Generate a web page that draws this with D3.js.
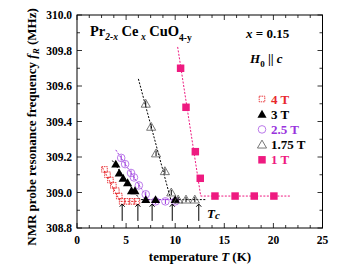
<!DOCTYPE html>
<html>
<head>
<meta charset="utf-8">
<script src="https://cdn.jsdelivr.net/npm/d3@7"></script>
<style>
body { margin: 0; background: #fff; }
text { font-family: "Liberation Serif", "DejaVu Serif", serif; font-weight: bold; }
</style>
</head>
<body>
<div id="chart"></div>
<script>
// NMR probe frequency vs temperature, one series per field
const t4T = [2.8, 3.1, 3.4, 3.7, 4.0, 4.3, 4.6, 5.1, 5.6, 6.1];
const f4T = [309.13, 309.10, 309.07, 309.04, 309.01, 308.98, 308.95, 308.95, 308.95, 308.95];
const t3T = [3.95, 4.3, 4.7, 5.15, 5.55, 5.9, 7.0, 8.0, 10.0];
const f3T = [309.16, 309.11, 309.08, 309.055, 309.01, 309.01, 308.96, 308.96, 308.96];
const t25T = [4.5, 4.9, 5.5, 5.8, 6.3, 7.0, 8.0, 9.0, 10.0];
const f25T = [309.195, 309.16, 309.11, 309.085, 309.04, 308.99, 308.95, 308.95, 308.95];
const t175T = [7.0, 7.55, 8.05, 8.95, 9.6, 10.3, 11.1, 12.0];
const f175T = [309.50, 309.37, 309.22, 309.12, 309.0, 308.96, 308.96, 308.96];
const t1T = [10.55, 11.1, 12.05, 12.55, 14.05, 16.1, 18.05, 20.05];
const f1T = [309.70, 309.48, 309.23, 309.08, 308.98, 308.98, 308.98, 308.98];

// dashed guide lines [T, f]
const fit4T = [[2.6, 309.14], [4.4, 308.95], [6.3, 308.95]];
const fit3T = [[3.6, 309.18], [6.4, 308.96], [8.6, 308.96]];
const fit25T = [[3.95, 309.24], [7.3, 308.96], [10.2, 308.96]];
const fit175T = [[6.25, 309.64], [9.55, 308.96], [13.2, 308.96]];
const fit1T = [[10.25, 309.82], [12.6, 308.98], [21.8, 308.98]];

const tcArrows = [4.6, 6.2, 7.65, 9.7, 12.4];
const legendNames = ["4 T", "3 T", "2.5 T", "1.75 T", "1 T"];

const width = 352, height = 272;
const margin = {top: 15, left: 77, right: 29.5, bottom: 44};

const svg = d3.select("#chart").append("svg")
    .attr("width", width)
    .attr("height", height);

const x = d3.scaleLinear().domain([0, 25]).range([margin.left, width - margin.right]);
const y = d3.scaleLinear().domain([308.8, 310]).range([height - margin.bottom, margin.top]);

// ticks, inside on all four sides
const xMajor = d3.range(0, 25.01, 5), xMinor = d3.range(0, 25.01, 1.25);
const yMajor = d3.range(308.8, 310.01, 0.2), yMinor = d3.range(308.8, 310.01, 0.1);
const tk = svg.append("g").attr("stroke", "#000").attr("stroke-width", 0.8);
xMinor.forEach(function(v) {
    const len = xMajor.some(m => Math.abs(m - v) < 1e-6) ? 5 : 3;
    tk.append("line").attr("x1", x(v)).attr("x2", x(v)).attr("y1", y.range()[0]).attr("y2", y.range()[0] - len);
    tk.append("line").attr("x1", x(v)).attr("x2", x(v)).attr("y1", y.range()[1]).attr("y2", y.range()[1] + len);
});
yMinor.forEach(function(v) {
    const len = yMajor.some(m => Math.abs(m - v) < 1e-6) ? 5 : 3;
    tk.append("line").attr("y1", y(v)).attr("y2", y(v)).attr("x1", x.range()[0]).attr("x2", x.range()[0] + len);
    tk.append("line").attr("y1", y(v)).attr("y2", y(v)).attr("x1", x.range()[1]).attr("x2", x.range()[1] - len);
});

svg.append("rect")
    .attr("x", x(0)).attr("y", y(310))
    .attr("width", x(25) - x(0)).attr("height", y(308.8) - y(310))
    .attr("fill", "none").attr("stroke", "#000").attr("stroke-width", 1);

svg.selectAll(".xl").data(xMajor).enter().append("text")
    .attr("x", d => x(d)).attr("y", 244)
    .attr("text-anchor", "middle").attr("font-size", 11.5)
    .text(d => d3.format("d")(d));
svg.selectAll(".yl").data(yMajor).enter().append("text")
    .attr("x", 72).attr("y", d => y(d) + 4)
    .attr("text-anchor", "end").attr("font-size", 11.5)
    .text(d => d.toFixed(1));

// axis titles
const xt = svg.append("text").attr("x", 200).attr("y", 261).attr("text-anchor", "middle").attr("font-size", 13);
xt.append("tspan").text("temperature ");
xt.append("tspan").attr("font-style", "italic").text("T");
xt.append("tspan").text(" (K)");

const yt = svg.append("text").attr("transform", "translate(36,127) rotate(-90)")
    .attr("text-anchor", "middle").attr("font-size", 13);
yt.append("tspan").text("NMR probe resonance frequency ");
yt.append("tspan").attr("font-style", "italic").text("f");
yt.append("tspan").attr("font-style", "italic").attr("font-size", 9).attr("dy", 3).text("R");
yt.append("tspan").attr("dy", -3).text(" (MHz)");

// dashed fits
const line = d3.line().x(d => x(d[0])).y(d => y(d[1]));
const fits = [[fit4T, "#e8282c"], [fit3T, "#000"], [fit25T, "#9933dd"], [fit175T, "#000"], [fit1T, "#ee1a80"]];
fits.forEach(function(f) {
    svg.append("path").datum(f[0]).attr("d", line)
        .attr("fill", "none").attr("stroke", f[1]).attr("stroke-width", 1)
        .attr("stroke-dasharray", "2,1.5");
});

// error bars
function errBars(ts, fs, col) {
    svg.append("g").selectAll("line").data(ts).enter().append("line")
        .attr("x1", d => x(d)).attr("x2", d => x(d))
        .attr("y1", (d, i) => y(fs[i] - 0.015)).attr("y2", (d, i) => y(fs[i] + 0.015))
        .attr("stroke", col).attr("stroke-width", 1);
}

const tri = d3.symbol().type(d3.symbolTriangle).size(36);
const sq = d3.symbol().type(d3.symbolSquare).size(56);

// 4 T open squares
svg.append("g").selectAll("rect").data(t4T).enter().append("rect")
    .attr("x", d => x(d) - 2.8).attr("y", (d, i) => y(f4T[i]) - 2.8)
    .attr("width", 5.6).attr("height", 5.6)
    .attr("fill", "none").attr("stroke", "#e8282c").attr("stroke-width", 0.9)
    .attr("stroke-dasharray", "1.5,0.8");

// 2.5 T open circles
errBars(t25T, f25T, "#9933dd");
svg.append("g").selectAll("circle").data(t25T).enter().append("circle")
    .attr("cx", d => x(d)).attr("cy", (d, i) => y(f25T[i])).attr("r", 3.8)
    .attr("fill", "none").attr("stroke", "#b36be8").attr("stroke-width", 0.9);

// 3 T filled triangles
errBars(t3T, f3T, "#000");
svg.append("g").selectAll("path").data(t3T).enter().append("path")
    .attr("d", tri).attr("transform", (d, i) => `translate(${x(d)},${y(f3T[i]) + 0.8})`)
    .attr("fill", "#000");

// 1.75 T open triangles
errBars(t175T, f175T, "#000");
svg.append("g").selectAll("path").data(t175T).enter().append("path")
    .attr("d", tri).attr("transform", (d, i) => `translate(${x(d)},${y(f175T[i]) + 0.8})`)
    .attr("fill", "none").attr("stroke", "#555").attr("stroke-width", 0.8);

// 1 T filled squares
svg.append("g").selectAll("path").data(t1T).enter().append("path")
    .attr("d", sq).attr("transform", (d, i) => `translate(${x(d)},${y(f1T[i])})`)
    .attr("fill", "#ee1a80");

// Tc arrows
const ar = svg.append("g").attr("stroke", "#000").attr("stroke-width", 1).attr("fill", "none");
tcArrows.forEach(function(t) {
    const px = x(t);
    ar.append("line").attr("x1", px).attr("x2", px).attr("y1", y(308.84)).attr("y2", y(308.933));
    ar.append("path").attr("d", `M${px - 2.5},${y(308.92)} L${px},${y(308.935)} L${px + 2.5},${y(308.92)}`);
});
const tc = svg.append("text").attr("x", 207).attr("y", 218).attr("font-size", 13).attr("font-style", "italic");
tc.append("tspan").text("T");
tc.append("tspan").attr("font-size", 11).attr("dy", 1).text("c");

// compound and condition labels
const cp = svg.append("text").attr("x", 90).attr("y", 36).attr("font-size", 14.5);
cp.append("tspan").text("Pr");
cp.append("tspan").attr("font-size", 9.5).attr("dy", 4).attr("font-style", "italic").text("2-x");
cp.append("tspan").attr("dy", -4).text(" Ce");
cp.append("tspan").attr("font-size", 9.5).attr("dy", 4).attr("font-style", "italic").text(" x");
cp.append("tspan").attr("dy", -4).text(" CuO");
cp.append("tspan").attr("font-size", 9.5).attr("dy", 5).text("4-y");

const xc = svg.append("text").attr("x", 246).attr("y", 38).attr("font-size", 13);
xc.append("tspan").attr("font-style", "italic").text("x");
xc.append("tspan").text(" = 0.15");

const hc = svg.append("text").attr("x", 250).attr("y", 63).attr("font-size", 13);
hc.append("tspan").attr("font-style", "italic").text("H");
hc.append("tspan").attr("font-size", 9).attr("dy", 4).text("0");
hc.append("tspan").attr("dy", -4).text(" || ");
hc.append("tspan").attr("font-style", "italic").text("c");

// legend
const legColors = ["#e8282c", "#000", "#9933dd", "#000", "#ee1a80"];
const leg = svg.append("g");
legendNames.forEach(function(name, i) {
    const ly = 99 + i * 15.2;
    const lx = 262;
    if (i === 0) {
        leg.append("rect").attr("x", lx - 2.8).attr("y", ly - 2.8).attr("width", 5.6).attr("height", 5.6)
            .attr("fill", "none").attr("stroke", "#e8282c").attr("stroke-width", 0.9).attr("stroke-dasharray", "1.5,0.8");
    } else if (i === 1) {
        leg.append("path").attr("d", tri).attr("transform", `translate(${lx},${ly + 0.8})`).attr("fill", "#000");
    } else if (i === 2) {
        leg.append("circle").attr("cx", lx).attr("cy", ly).attr("r", 3.8)
            .attr("fill", "none").attr("stroke", "#b36be8").attr("stroke-width", 0.9);
    } else if (i === 3) {
        leg.append("path").attr("d", tri).attr("transform", `translate(${lx},${ly + 0.8})`)
            .attr("fill", "none").attr("stroke", "#555").attr("stroke-width", 0.8);
    } else {
        leg.append("path").attr("d", sq).attr("transform", `translate(${lx},${ly})`).attr("fill", "#ee1a80");
    }
    leg.append("text").attr("x", 271).attr("y", ly + 4.5).attr("font-size", 13)
        .attr("fill", legColors[i]).attr("font-weight", i === 4 ? "normal" : "bold")
        .text(name);
});
</script>
</body>
</html>
